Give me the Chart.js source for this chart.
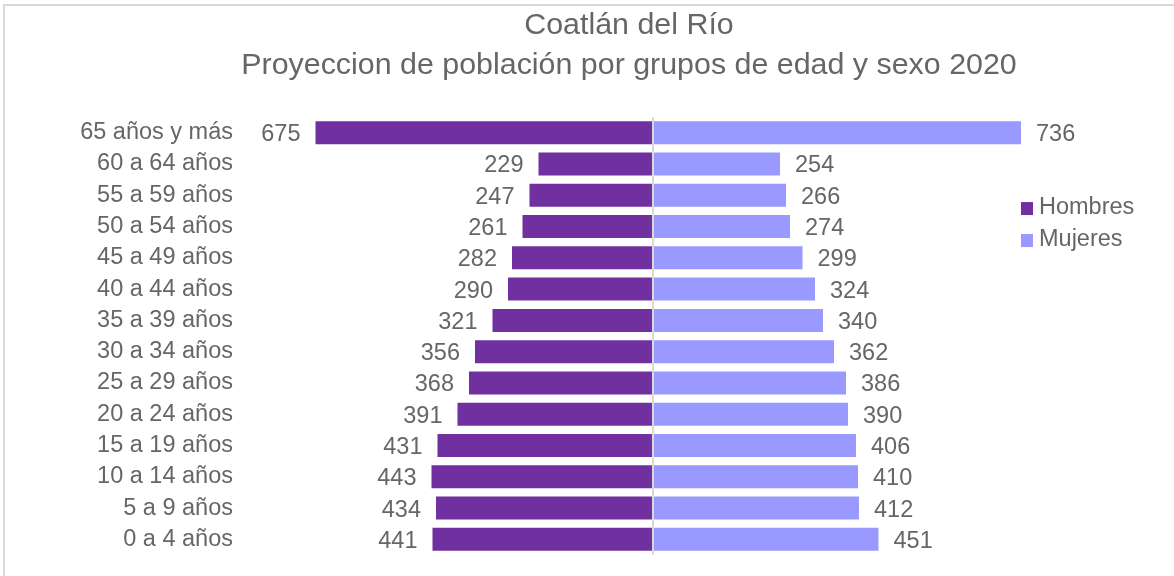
<!DOCTYPE html>
<html>
<head>
<meta charset="utf-8">
<script src="https://cdn.jsdelivr.net/npm/chart.js@4"></script>
<style>
  html, body { margin: 0; padding: 0; background: #fff; overflow: hidden; }
  #frame { position: absolute; left: 3px; top: 4px; width: 1200px; height: 600px;
           border-left: 2px solid #d9d9d9; border-top: 2px solid #d9d9d9; }
  #wrap { position: absolute; left: 0; top: 0; width: 1174px; height: 576px; overflow: hidden; }
</style>
</head>
<body>
<div id="frame"></div>
<div id="wrap"><canvas id="pyramid" width="1258" height="576"></canvas></div>
<script>
const ageGroups = ['65 años y más', '60 a 64 años', '55 a 59 años', '50 a 54 años', '45 a 49 años',
    '40 a 44 años', '35 a 39 años', '30 a 34 años', '25 a 29 años', '20 a 24 años',
    '15 a 19 años', '10 a 14 años', '5 a 9 años', '0 a 4 años'];
const hombres = [675, 229, 247, 261, 282, 290, 321, 356, 368, 391, 431, 443, 434, 441];
const mujeres = [736, 254, 266, 274, 299, 324, 340, 362, 386, 390, 406, 410, 412, 451];

const textGray = '#666666';
const fontFamily = '"Liberation Sans", Arial, sans-serif';
Chart.defaults.font.family = fontFamily;

// value labels next to each bar end (no datalabels plugin available)
const barLabels = {
    id: 'barLabels',
    afterDatasetsDraw(chart) {
        const ctx = chart.ctx;
        ctx.save();
        ctx.font = '23.5px ' + fontFamily;
        ctx.fillStyle = textGray;
        ctx.textBaseline = 'middle';
        chart.data.datasets.forEach((ds, i) => {
            chart.getDatasetMeta(i).data.forEach((bar, j) => {
                const v = ds.data[j];
                ctx.textAlign = v < 0 ? 'right' : 'left';
                ctx.fillText(Math.abs(v), bar.x + (v < 0 ? -15 : 15), bar.y + 2);
            });
        });
        ctx.restore();
    }
};

// legend drawn at the right, like the original
const sideLegend = {
    id: 'sideLegend',
    afterDraw(chart) {
        const ctx = chart.ctx;
        const x = chart.chartArea.right - 237;
        let y = chart.chartArea.top + 89;
        ctx.save();
        ctx.font = '23.5px ' + fontFamily;
        ctx.textBaseline = 'middle';
        ctx.textAlign = 'left';
        chart.data.datasets.forEach(ds => {
            ctx.fillStyle = ds.backgroundColor;
            ctx.fillRect(x, y - 4, 12, 13);
            ctx.fillStyle = textGray;
            ctx.fillText(ds.label, x + 18, y + 1);
            y += 32;
        });
        ctx.restore();
    }
};

new Chart(document.getElementById('pyramid'), {
    type: 'bar',
    data: {
        labels: ageGroups,
        datasets: [
            {
                label: 'Hombres',
                data: hombres.map(v => -v),
                backgroundColor: '#7030A0',
                barPercentage: 0.735,
                categoryPercentage: 1
            },
            {
                label: 'Mujeres',
                data: mujeres,
                backgroundColor: '#9999FF',
                barPercentage: 0.735,
                categoryPercentage: 1
            }
        ]
    },
    options: {
        indexAxis: 'y',
        responsive: false,
        animation: false,
        // canvas runs 84px past the window so the title centres where the original does
        layout: { padding: { left: 0, right: 0, top: 0, bottom: 21 } },
        plugins: {
            legend: { display: false },
            title: {
                display: true,
                text: ['Coatlán del Río', 'Proyeccion de población por grupos de edad y sexo 2020'],
                color: textGray,
                font: { size: 30.4, weight: 'normal', lineHeight: 1.333 },
                padding: { top: 5, bottom: 31 }
            },
            tooltip: {
                callbacks: { label: c => c.dataset.label + ': ' + Math.abs(c.raw) }
            }
        },
        scales: {
            x: {
                stacked: true,
                min: -840,
                max: 1210,
                afterFit: s => { s.height = 0; },
                ticks: { display: false, stepSize: 100 },
                grid: {
                    drawTicks: false,
                    lineWidth: 2,
                    color: c => (c.tick && c.tick.value === 0 ? '#d9d9d9' : 'rgba(0,0,0,0)')
                },
                border: { display: false }
            },
            y: {
                stacked: true,
                afterFit: s => { s.width = 233; },
                ticks: { color: textGray, font: { size: 23.5 }, padding: 0 },
                grid: { display: false, drawTicks: false },
                border: { display: false }
            }
        }
    },
    plugins: [barLabels, sideLegend]
});
</script>
</body>
</html>
